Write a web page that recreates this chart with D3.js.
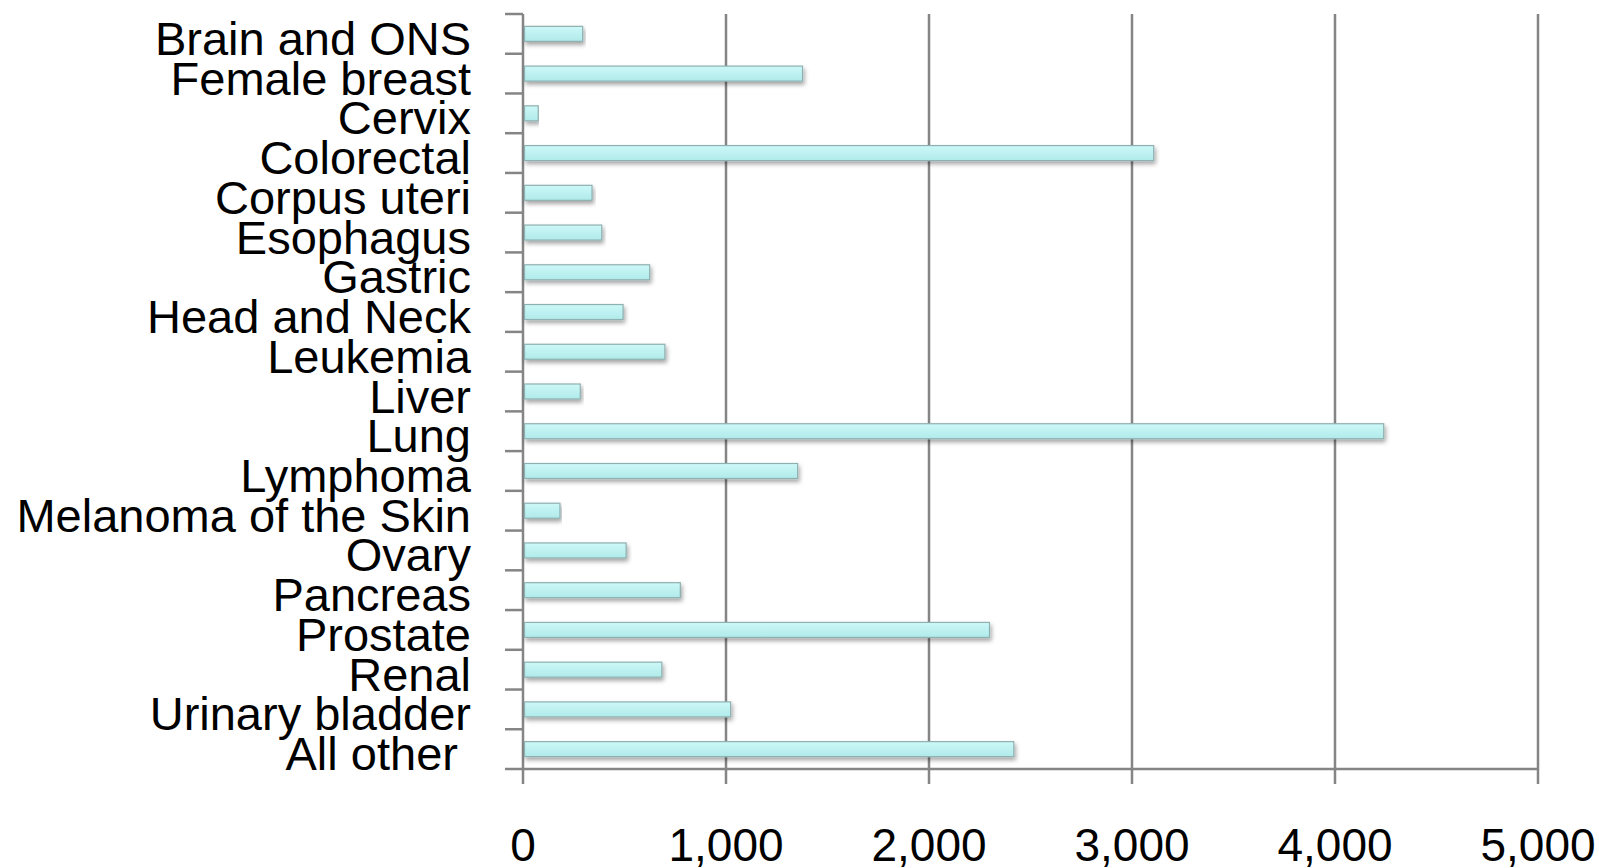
<!DOCTYPE html>
<html><head><meta charset="utf-8">
<script src="https://cdn.jsdelivr.net/npm/d3@7"></script>
<style>
html,body{margin:0;padding:0;background:#fff;overflow:hidden}
svg{display:block}
</style></head>
<body>
<script>
const categories = ["Brain and ONS","Female breast","Cervix","Colorectal","Corpus uteri","Esophagus","Gastric","Head and Neck","Leukemia","Liver","Lung","Lymphoma","Melanoma of the Skin","Ovary","Pancreas","Prostate","Renal","Urinary bladder","All other "];
const values = [294,1377,75,3107,340,388,624,493,699,282,4240,1353,182,508,775,2298,684,1023,2418];
const xTicks = [0,1000,2000,3000,4000,5000];

const W = 1599, H = 868;
const m = {left:523, right:W-1538, top:14, bottom:H-769};
const svg = d3.select("body").append("svg").attr("width",W).attr("height",H);

const defs = svg.append("defs");
const grad = defs.append("linearGradient").attr("id","barg").attr("x1",0).attr("y1",0).attr("x2",0).attr("y2",1);
grad.append("stop").attr("offset","0%").attr("stop-color","#cdf8f8");
grad.append("stop").attr("offset","100%").attr("stop-color","#b0eaea");
const f = defs.append("filter").attr("id","sh").attr("x","-5%").attr("y","-50%").attr("width","110%").attr("height","250%");
f.append("feDropShadow").attr("dx",1.5).attr("dy",3).attr("stdDeviation",2).attr("flood-color","#000").attr("flood-opacity",0.35);

const x = d3.scaleLinear().domain([0,5000]).range([m.left, W-m.right]);
const y = d3.scaleBand().domain(categories).range([m.top, H-m.bottom]).padding(0);

const gridCol = "#858585";
svg.append("g").selectAll("line").data(xTicks.slice(1)).join("line")
  .attr("x1",d=>x(d)).attr("x2",d=>x(d)).attr("y1",m.top).attr("y2",H-m.bottom+15)
  .attr("stroke",gridCol).attr("stroke-width",2.5);

svg.append("line").attr("x1",x(0)).attr("x2",x(5000)).attr("y1",H-m.bottom).attr("y2",H-m.bottom)
  .attr("stroke",gridCol).attr("stroke-width",2.5);
svg.append("line").attr("x1",x(0)).attr("x2",x(0)).attr("y1",m.top).attr("y2",H-m.bottom+15)
  .attr("stroke",gridCol).attr("stroke-width",2.5);
svg.append("g").selectAll("text").data(xTicks).join("text")
  .attr("x",d=>x(d)).attr("y",861).attr("text-anchor","middle")
  .attr("font-family","'Liberation Sans', Arial, sans-serif").attr("font-size",46).attr("fill","#000")
  .text(d=>d3.format(",")(d));

const bounds = categories.map(c=>y(c)).concat([y(categories[categories.length-1])+y.bandwidth()]);
svg.append("g").selectAll("line").data(bounds).join("line")
  .attr("x1",505).attr("x2",x(0)).attr("y1",d=>d).attr("y2",d=>d)
  .attr("stroke",gridCol).attr("stroke-width",2.5);

svg.append("g").selectAll("text").data(categories).join("text")
  .attr("x",471).attr("y",d=>y(d)+y.bandwidth()/2+21).attr("text-anchor","end")
  .attr("font-family","'Liberation Sans', Arial, sans-serif").attr("font-size",47).attr("fill","#000")
  .style("white-space","pre")
  .text(d=>d);

const bh = 15;
svg.append("g").selectAll("rect").data(categories).join("rect")
  .attr("x",x(0)+1.5).attr("y",(d)=>y(d)+y.bandwidth()/2-bh/2)
  .attr("width",(d,i)=>x(values[i])-x(0)-1.5).attr("height",bh)
  .attr("fill","url(#barg)").attr("stroke","#8fb0b0").attr("stroke-width",1.2)
  .attr("filter","url(#sh)");
</script>
</body></html>
